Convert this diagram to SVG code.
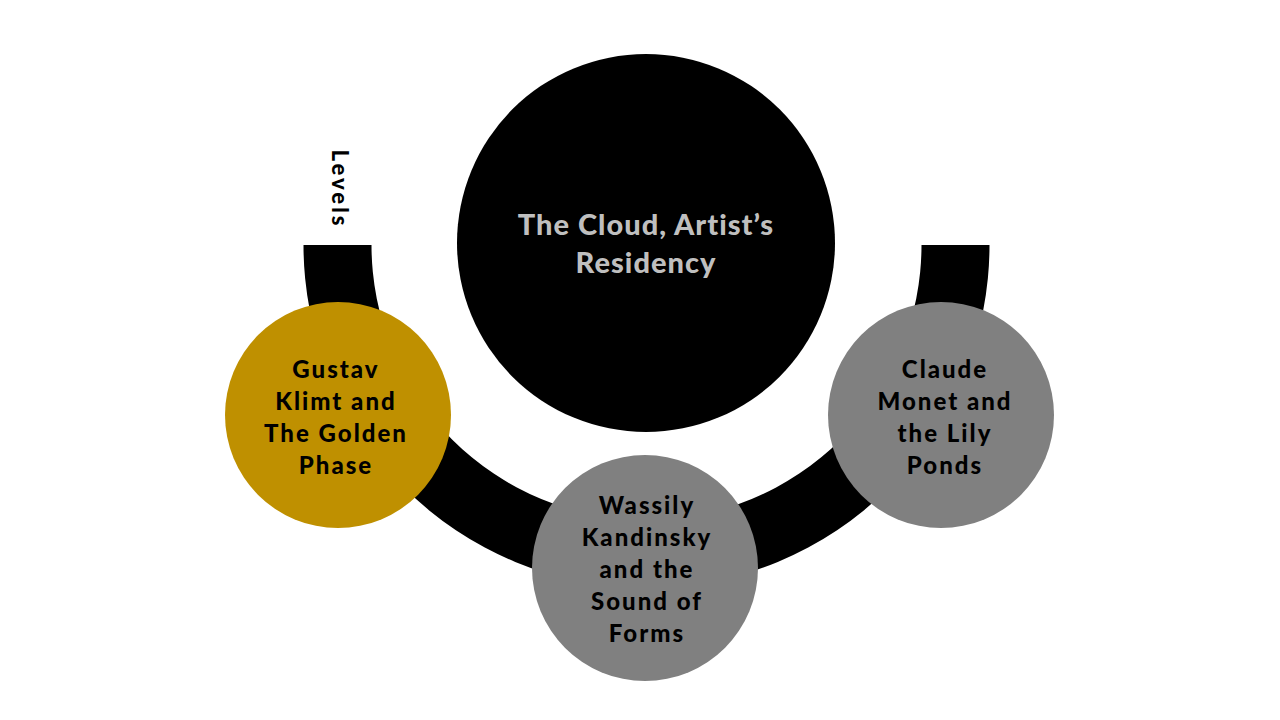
<svg xmlns="http://www.w3.org/2000/svg" width="1280" height="720" viewBox="0 0 1280 720">
<style>
.lbl{font-family:Lato,"Noto Sans","Liberation Sans",sans-serif;font-weight:900;text-anchor:middle}
.node{font-size:24px;fill:#000;letter-spacing:2px}
.main{font-size:29px;fill:#BFBFBF;letter-spacing:1px}
</style>
<rect width="1280" height="720" fill="#fff"/>
<g id="connectors">
<path d="M303.5 245 A343 343 0 0 0 989.5 245 L921.5 245 A275 275 0 0 1 371.5 245 Z" fill="#000"/>
</g>
<g id="levels-label">
<text class="lbl" font-size="22" letter-spacing="3" transform="translate(332 189) rotate(90)">Levels</text>
</g>
<g id="main-node">
<circle cx="646" cy="243" r="189" fill="#000"/>
<text class="lbl main" x="646" y="235">The Cloud, Artist’s</text>
<text class="lbl main" x="646" y="273">Residency</text>
</g>
<g id="klimt">
<circle cx="338" cy="415" r="113" fill="#BF9000"/>
<text class="lbl node" x="336" y="378">Gustav</text>
<text class="lbl node" x="336" y="410">Klimt and</text>
<text class="lbl node" x="336" y="442">The Golden</text>
<text class="lbl node" x="336" y="474">Phase</text>
</g>
<g id="kandinsky">
<circle cx="645" cy="568" r="113" fill="#808080"/>
<text class="lbl node" x="647" y="514">Wassily</text>
<text class="lbl node" x="647" y="546">Kandinsky</text>
<text class="lbl node" x="647" y="578">and the</text>
<text class="lbl node" x="647" y="610">Sound of</text>
<text class="lbl node" x="647" y="642">Forms</text>
</g>
<g id="monet">
<circle cx="941" cy="415" r="113" fill="#808080"/>
<text class="lbl node" x="945" y="378">Claude</text>
<text class="lbl node" x="945" y="410">Monet and</text>
<text class="lbl node" x="945" y="442">the Lily</text>
<text class="lbl node" x="945" y="474">Ponds</text>
</g>
</svg>
